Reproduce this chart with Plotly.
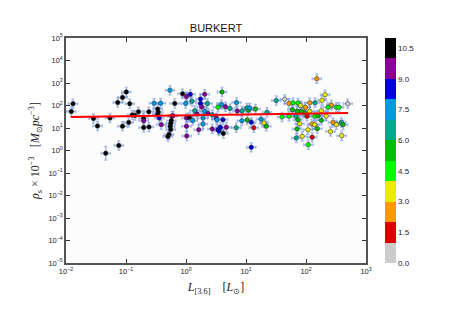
import numpy as np
import plotly.graph_objects as go

# log10 of L[3.6] (L_sun)
log_L = [-1.883, -1.912, -1.542, -1.475, -1.267, -1.338, -1.12, -1.138, -1.058, -0.995,
         -1.058, -0.937, -0.955, -0.897, -0.85, -0.792, -0.708, -0.705, -0.705, -0.617,
         -0.62, -0.533, -0.422, -0.472, -0.462, -0.475, -0.445, -0.412, -0.267, -0.188,
         -0.233, -0.217, -0.245, -0.255, -0.263, -0.255, -0.283, -0.303, -0.058, 0.008,
         0.072, -0.005, 0.1, 0.008, 0.008, 0.012, 0.055, 0.112, 0.145, 0.183,
         0.242, 0.242, 0.312, 0.262, 0.358, 0.312, 0.367, 0.438, 0.283, 0.283,
         0.212, 0.505, 0.438, 0.533, 0.572, 0.55, 0.672, 0.622, 0.6, 0.533,
         0.592, 0.658, 0.733, 0.617, 0.517, 0.842, 0.855, 0.933, 0.838, 0.93,
         1.012, 1.042, 1.062, 1.158, 1.022, 1.088, 1.13, 1.25, 1.3, 1.338,
         1.35, 1.088, 1.505, 1.645, 1.717, 1.783, 1.867, 1.772, 1.908, 1.992,
         2.062, 2.15, 2.267, 2.317, 2.18, 2.422, 2.367, 2.508, 2.55, 2.695,
         1.6, 1.717, 1.833, 1.867, 1.895, 1.85, 1.838, 1.937, 2.033, 2.103,
         2.038, 2.017, 1.967, 2.062, 2.145, 2.2, 2.255, 2.338, 2.1, 2.145,
         2.188, 2.255, 2.45, 2.505, 2.588, 2.617, 2.408, 2.595, 1.922, 1.855]

# log10 of rho_s x 1e-3 (M_sun pc^-3)
log_rho = [2.08, 1.73, 1.42, 1.09, 1.444, -0.12, 0.22, 2.13, 2.36, 2.6,
           1.08, 2.08, 1.25, 1.58, 1.56, 1.72, 1.43, 1.32, 1.02, 1.05,
           1.72, 2.10, 2.10, 1.84, 1.71, 1.6, 1.444, 1.15, 2.68, 2.09,
           1.52, 1.55, 1.32, 1.2, 1.067, 0.93, 0.71, 0.62, 2.52, 2.4,
           2.50, 2.09, 2.19, 1.444, 1.076, 0.65, 1.48, 1.33, 1.77, 1.62,
           2.29, 2.09, 2.50, 1.93, 2.09, 1.74, 1.64, 1.59, 1.444, 1.18,
           0.92, 1.444, 0.96, 0.92, 1.03, 0.87, 1.03, 0.76, 2.6, 1.92,
           2.05, 1.94, 1.87, 1.37, 1.37, 2.13, 1.76, 1.76, 1.01, 1.32,
           1.89, 1.8, 1.89, 1.84, 1.36, 1.26, 1.01, 1.39, 1.22, 1.076,
           1.70, 0.14, 2.22, 2.28, 2.09, 2.12, 2.11, 1.81, 2.0, 1.91,
           2.12, 2.12, 2.23, 2.48, 3.19, 2.02, 1.92, 1.92, 1.92, 2.08,
           1.49, 1.52, 1.52, 1.37, 1.19, 0.96, 0.556, 0.63, 0.92, 0.59,
           0.26, 1.52, 1.67, 1.74, 1.52, 1.55, 1.76, 1.53, 1.18, 1.15,
           0.97, 1.34, 1.25, 1.15, 1.25, 1.15, 0.84, 0.66, 1.74, 1.74]

# colour-bar quantity of each point
color_val = [10.5, 10.5, 10.5, 10.5, 10.5, 10.5, 10.5, 10.5, 10.5, 10.5,
             10.5, 10.5, 10.5, 10.5, 10.5, 10.5, 10.5, 9.5, 10.5, 10.5,
             10.5, 7.5, 7.5, 10.5, 10.5, 10.5, 8.5, 9.5, 7.5, 10.5,
             10.5, 9.5, 10.5, 10.5, 10.5, 10.5, 10.5, 10.5, 10.5, 9.5,
             8.5, 7.5, 6.5, 9.5, 9.5, 9.5, 10.5, 7.5, 6.5, 9.5,
             8.5, 8.5, 9.5, 9.5, 6.5, 7.5, 9.5, 6.5, 7.5, 7.5,
             9.5, 9.5, 9.5, 8.5, 8.5, 8.5, 9.5, 10.5, 5.5, 4.5,
             7.5, 9.5, 6.5, 8.5, 7.5, 7.5, 9.5, 6.5, 6.5, 7.5,
             6.5, 5.5, 7.5, 5.5, 5.5, 8.5, 1.5, 7.5, 3.5, 5.5,
             6.5, 8.5, 6.5, 0.5, 2.5, 4.5, 4.5, 5.5, 3.5, 2.5,
             2.5, 6.5, 3.5, 3.5, 2.5, 2.5, 4.5, 4.5, 4.5, 0.5,
             4.5, 4.5, 6.5, 5.5, 3.5, 5.5, 6.5, 3.5, 3.5, 1.5,
             4.5, 1.5, 5.5, 3.5, 4.5, 5.5, 3.5, 3.5, 2.5, 3.5,
             5.5, 5.5, 2.5, 3.5, 6.5, 5.5, 3.5, 3.5, 5.5, 5.5]

# typical error sizes (dex)
err_L_dex = 0.075
err_rho_dex = 0.2
big_err_index = 5
big_err_rho_dex = 0.3

# fitted relation end points
fit_L = [0.012, 500]
fit_rho = [31, 46]

x_exponents = [-2, -1, 0, 1, 2, 3]
y_exponents = [-5, -4, -3, -2, -1, 0, 1, 2, 3, 4, 5]

bin_colors = ["#cccccc", "#dd0000", "#ff9900", "#ebeb00", "#00ff00", "#00bb00",
              "#00a890", "#0099dd", "#0000dd", "#880099", "#000000"]
cbar_ticks = [0.0, 1.5, 3.0, 4.5, 6.0, 7.5, 9.0, 10.5]

L = 10 ** np.array(log_L)
rho = 10 ** np.array(log_rho)
ey = np.full(len(rho), err_rho_dex)
ey[big_err_index] = big_err_rho_dex
ex = np.full(len(L), err_L_dex)

n = len(bin_colors)
cscale = []
for i, c in enumerate(bin_colors):
    cscale.append([i / n, c])
    cscale.append([(i + 1) / n, c])


def pow_label(e):
    return "10<sup>" + str(e).replace("-", "−") + "</sup>"


err_col = "rgba(110,145,215,0.6)"

fig = go.Figure()
fig.add_trace(go.Scatter(
    x=L, y=rho, mode="markers",
    marker=dict(size=4.5, color=color_val, colorscale=cscale, cmin=0, cmax=11,
                line=dict(color="#222222", width=0.5),
                colorbar=dict(x=1.063, xanchor="left", y=0.5, len=1.0, thickness=11,
                              tickvals=cbar_ticks, ticktext=[f"{t:.1f}" for t in cbar_ticks],
                              ticks="", outlinewidth=0, xpad=0, ypad=0,
                              tickfont=dict(size=8, family="Liberation Sans", color="#222"))),
    error_x=dict(type="data", symmetric=False, array=L * (10 ** ex - 1),
                 arrayminus=L * (1 - 10 ** -ex), color=err_col,
                 thickness=1.5, width=1.5),
    error_y=dict(type="data", symmetric=False, array=rho * (10 ** ey - 1),
                 arrayminus=rho * (1 - 10 ** -ey), color=err_col,
                 thickness=1.5, width=1.5),
    showlegend=False, hoverinfo="skip"))

fig.add_trace(go.Scatter(x=fit_L, y=fit_rho, mode="lines",
                         line=dict(color="#ff0000", width=2), showlegend=False))

axis_common = dict(type="log", showgrid=False, zeroline=False, showline=True, mirror="ticks",
                   linecolor="#555555", linewidth=1.5, ticks="inside", ticklen=4,
                   tickcolor="#333",
                   tickfont=dict(size=7.5, family="Liberation Sans", color="#222"))

fig.update_xaxes(range=[-2, 3], **axis_common,
                 tickvals=[10.0 ** e for e in x_exponents],
                 ticktext=[pow_label(e) for e in x_exponents],
                 title=dict(text="<i>L</i><sub>[3.6]</sub>    [<i>L</i><sub>⊙</sub>]",
                            font=dict(size=12, family="Liberation Serif", color="#222"),
                            standoff=8))
fig.update_yaxes(range=[-5, 5], **axis_common,
                 tickvals=[10.0 ** e for e in y_exponents],
                 ticktext=[pow_label(e) for e in y_exponents],
                 title=dict(text="<i>ρ</i><sub>s</sub> × 10<sup>−3</sup>   [<i>M</i><sub>⊙</sub><i>pc</i><sup>−3</sup>]",
                            font=dict(size=12, family="Liberation Serif", color="#222"),
                            standoff=6))

fig.update_layout(
    width=450, height=309,
    margin=dict(l=58, r=92, t=30, b=54),
    paper_bgcolor="white", plot_bgcolor="#fcfcfc",
    title=dict(text="BURKERT", x=(58 + 150) / 450, xanchor="center", y=1 - 20 / 309,
               yanchor="middle", font=dict(size=11, family="Liberation Sans", color="#111")),
)

fig.write_html("out.html")
